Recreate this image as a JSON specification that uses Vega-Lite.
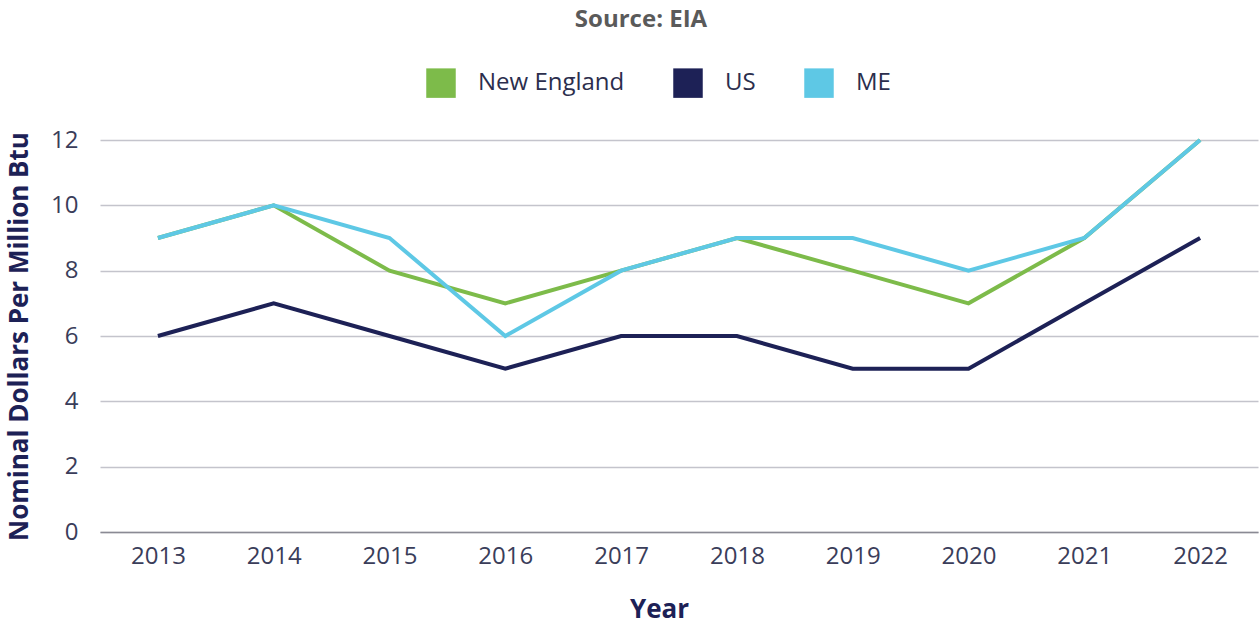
{
  "$schema": "https://vega.github.io/schema/vega-lite/v6.json",
  "width": 1158,
  "height": 392,
  "autosize": "none",
  "padding": {"left": 100, "top": 140, "right": 2, "bottom": 93},
  "background": "white",
  "title": {
    "text": "Source: EIA",
    "font": "Open Sans",
    "fontSize": 24,
    "fontWeight": "bold",
    "color": "#5a5a5a",
    "anchor": "middle",
    "dx": -38,
    "offset": 36
  },
  "data": {
    "values": [
      {"year": "2013", "series": "New England", "value": 9},
      {"year": "2014", "series": "New England", "value": 10},
      {"year": "2015", "series": "New England", "value": 8},
      {"year": "2016", "series": "New England", "value": 7},
      {"year": "2017", "series": "New England", "value": 8},
      {"year": "2018", "series": "New England", "value": 9},
      {"year": "2019", "series": "New England", "value": 8},
      {"year": "2020", "series": "New England", "value": 7},
      {"year": "2021", "series": "New England", "value": 9},
      {"year": "2022", "series": "New England", "value": 12},
      {"year": "2013", "series": "US", "value": 6},
      {"year": "2014", "series": "US", "value": 7},
      {"year": "2015", "series": "US", "value": 6},
      {"year": "2016", "series": "US", "value": 5},
      {"year": "2017", "series": "US", "value": 6},
      {"year": "2018", "series": "US", "value": 6},
      {"year": "2019", "series": "US", "value": 5},
      {"year": "2020", "series": "US", "value": 5},
      {"year": "2021", "series": "US", "value": 7},
      {"year": "2022", "series": "US", "value": 9},
      {"year": "2013", "series": "ME", "value": 9},
      {"year": "2014", "series": "ME", "value": 10},
      {"year": "2015", "series": "ME", "value": 9},
      {"year": "2016", "series": "ME", "value": 6},
      {"year": "2017", "series": "ME", "value": 8},
      {"year": "2018", "series": "ME", "value": 9},
      {"year": "2019", "series": "ME", "value": 9},
      {"year": "2020", "series": "ME", "value": 8},
      {"year": "2021", "series": "ME", "value": 9},
      {"year": "2022", "series": "ME", "value": 12}
    ]
  },
  "mark": {"type": "line", "strokeWidth": 4, "strokeJoin": "miter"},
  "encoding": {
    "x": {
      "field": "year",
      "type": "ordinal",
      "scale": {"type": "point", "padding": 0.5},
      "axis": {
        "title": "Year",
        "titleX": 559,
        "titleFontSize": 26,
        "labelAngle": 0,
        "ticks": false,
        "grid": false,
        "domain": true,
        "domainColor": "#8a8a94",
        "domainWidth": 1.5,
        "labelPadding": 12,
        "titlePadding": 28
      }
    },
    "y": {
      "field": "value",
      "type": "quantitative",
      "scale": {"domain": [0, 12], "nice": false},
      "axis": {
        "title": "Nominal Dollars Per Million Btu",
        "titleFontSize": 26,
        "values": [0, 2, 4, 6, 8, 10, 12],
        "ticks": false,
        "domain": false,
        "grid": true,
        "gridColor": "#c4c4cc",
        "gridWidth": 1.3,
        "labelPadding": 22,
        "titlePadding": 18
      }
    },
    "color": {
      "field": "series",
      "type": "nominal",
      "sort": ["New England", "US", "ME"],
      "scale": {
        "domain": ["New England", "US", "ME"],
        "range": ["#7dbb4a", "#1d2156", "#5ec8e5"]
      },
      "legend": {
        "title": null,
        "orient": "none",
        "legendX": 326,
        "legendY": -72,
        "direction": "horizontal",
        "symbolType": "square",
        "symbolSize": 870,
        "symbolStrokeWidth": 0,
        "symbolOpacity": 1,
        "labelOffset": 22,
        "columnPadding": 48,
        "labelFontSize": 24,
        "labelFont": "Open Sans",
        "labelColor": "#2b2e4d",
        "encode": {
          "symbols": {
            "update": {
              "fill": {"scale": "color", "field": "value"},
              "fillOpacity": {"value": 1},
              "strokeWidth": {"value": 0}
            }
          }
        }
      }
    }
  },
  "config": {
    "view": {"stroke": null},
    "font": "Open Sans",
    "axis": {
      "labelFont": "Open Sans",
      "labelFontSize": 24,
      "labelColor": "#3a3d5a",
      "titleFont": "Open Sans",
      "titleFontSize": 24,
      "titleFontWeight": "bold",
      "titleColor": "#1d2156"
    }
  }
}
